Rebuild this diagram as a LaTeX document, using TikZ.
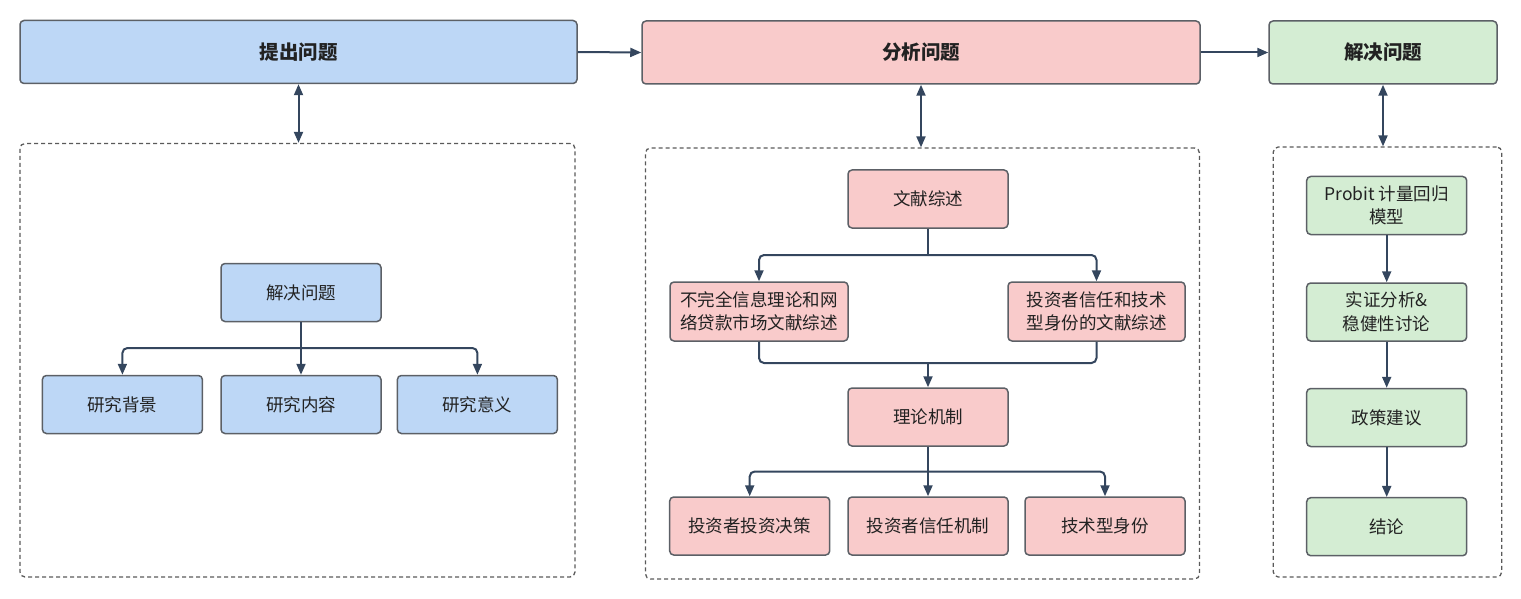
\documentclass[tikz,border=0pt]{standalone}
\usepackage{fontspec}
\setmainfont{Noto Sans CJK SC}
\usetikzlibrary{arrows.meta}
\definecolor{bluef}{HTML}{BDD7F6}
\definecolor{pinkf}{HTML}{F9CBCB}
\definecolor{greenf}{HTML}{D4EDD3}
\definecolor{bordc}{HTML}{5C6066}
\definecolor{arrc}{HTML}{34465E}
\definecolor{txtc}{HTML}{222222}
\definecolor{dashc}{HTML}{5A5A5A}
\tikzset{
  box/.style={draw=bordc, line width=1.5pt, rounded corners=4pt, inner sep=0pt,
    minimum width=160pt, minimum height=58pt, text=txtc, align=center,
    font=\fontsize{17.5}{23.5}\selectfont},
  titlebox/.style={box, minimum height=63pt, font=\fontsize{19.5}{23}\selectfont\bfseries},
  bluebox/.style={box, fill=bluef},
  pinkbox/.style={box, fill=pinkf},
  greenbox/.style={box, fill=greenf},
  container/.style={draw=dashc, line width=1.3pt, dash pattern=on 4pt off 3pt,
    rounded corners=5pt, inner sep=0pt},
  conn/.style={draw=arrc, line width=2pt, rounded corners=5pt},
  arr/.style={conn, -{Triangle[length=11pt,width=9pt]}},
  darr/.style={conn, {Triangle[length=11pt,width=9pt]}-{Triangle[length=11pt,width=9pt]}},
}
\begin{document}
\begin{tikzpicture}[x=1pt,y=-1pt]
\useasboundingbox (0,0) rectangle (1521,599);
% top row
\node[titlebox, fill=bluef, minimum width=557pt] (T1) at (298.5,52) {提出问题};
\node[titlebox, fill=pinkf, minimum width=558pt] (T2) at (921,52.5) {分析问题};
\node[titlebox, fill=greenf, minimum width=228pt] (T3) at (1383,52.5) {解决问题};
\draw[arr] (T1.east) -- (T2.west);
\draw[arr] (T2.east) -- (T3.west);
% containers
\node[container, minimum width=555pt, minimum height=433.5pt] (C1) at (297.5,360.25) {};
\node[container, minimum width=554pt, minimum height=431pt] (C2) at (922.5,363.5) {};
\node[container, minimum width=228.4pt, minimum height=430pt] (C3) at (1387.5,362) {};
\draw[darr] (T1.south) -- (T1.south |- C1.north);
\draw[darr] (T2.south) -- (T2.south |- C2.north);
\draw[darr] (T3.south) -- (T3.south |- C3.north);
% left
\node[bluebox] (L0) at (301,292.5) {解决问题};
\node[bluebox] (L1) at (122.4,404.5) {研究背景};
\node[bluebox] (L2) at (301,404.5) {研究内容};
\node[bluebox] (L3) at (477.4,404.5) {研究意义};
\coordinate (lb) at (301,348);
\draw[conn] (L0.south) -- (lb);
\draw[arr] (lb) -| (L1.north);
\draw[arr] (lb) -- (L2.north);
\draw[arr] (lb) -| (L3.north);
% middle
\node[pinkbox] (M0) at (928,199) {文献综述};
\node[pinkbox, minimum width=178pt, minimum height=59pt] (M1) at (759,311.5) {不完全信息理论和网\\络贷款市场文献综述};
\node[pinkbox, minimum width=177pt, minimum height=59pt] (M2) at (1096.5,311.5) {投资者信任和技术\\型身份的文献综述};
\node[pinkbox] (M3) at (928,417) {理论机制};
\node[pinkbox] (M4) at (749.7,526) {投资者投资决策};
\node[pinkbox] (M5) at (928,526) {投资者信任机制};
\node[pinkbox] (M6) at (1105,526) {技术型身份};
\coordinate (ms) at (928,255);
\draw[conn] (M0.south) -- (ms);
\draw[arr] (ms) -| (M1.north);
\draw[arr] (ms) -| (M2.north);
\coordinate (mj) at (928,363);
\draw[conn] (M1.south) |- (mj);
\draw[conn] (M2.south) |- (mj);
\draw[arr] (mj) -- (M3.north);
\coordinate (mb) at (928,471.5);
\draw[conn] (M3.south) -- (mb);
\draw[arr] (mb) -| (M4.north);
\draw[arr] (mb) -- (M5.north);
\draw[arr] (mb) -| (M6.north);
% right
\node[greenbox] (R1) at (1386.7,205.5) {Probit 计量回归\\模型};
\node[greenbox] (R2) at (1386.7,312) {实证分析\&\\稳健性讨论};
\node[greenbox] (R3) at (1386.7,417.5) {政策建议};
\node[greenbox] (R4) at (1386.7,526.7) {结论};
\draw[arr] (R1.south) -- (R2.north);
\draw[arr] (R2.south) -- (R3.north);
\draw[arr] (R3.south) -- (R4.north);
\end{tikzpicture}
\end{document}
